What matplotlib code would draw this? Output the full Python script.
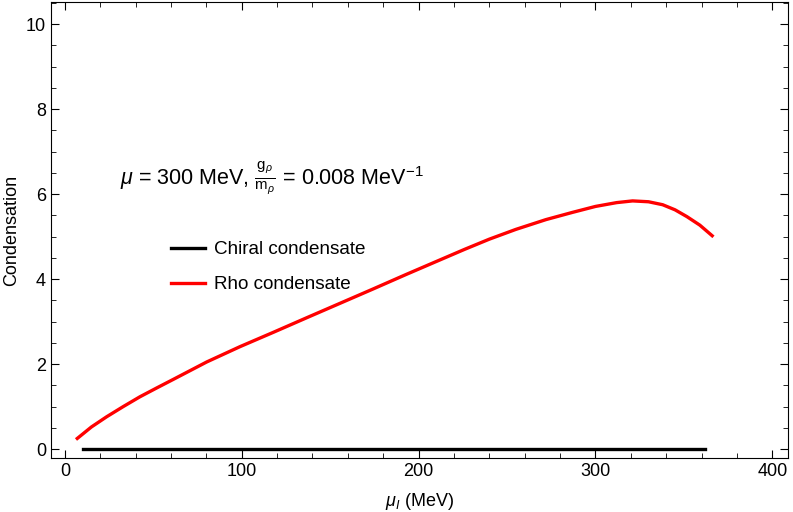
import matplotlib.pyplot as plt
from matplotlib.ticker import MultipleLocator

plt.rcParams['font.family'] = ['Liberation Sans', 'DejaVu Sans']
plt.rcParams['mathtext.fontset'] = 'custom'
plt.rcParams['mathtext.rm'] = 'Liberation Sans'
plt.rcParams['mathtext.it'] = 'Liberation Sans:italic'

# isospin chemical potential (MeV) and condensates
mu_i_rho = [7, 15, 23.6, 33, 42.4, 52, 61.3, 80.2, 99, 118, 136.7, 155, 174.4, 193, 212,
            226, 240, 255, 272, 287, 300, 312, 321, 330, 338, 345, 351.7, 359, 366]
rho = [0.25, 0.52, 0.76, 1.00, 1.23, 1.44, 1.64, 2.05, 2.41, 2.75, 3.09, 3.42, 3.77, 4.11, 4.45,
       4.70, 4.94, 5.17, 5.40, 5.57, 5.71, 5.80, 5.84, 5.82, 5.75, 5.63, 5.47, 5.27, 5.02]
mu_i_chiral = [10, 362]
chiral = [0, 0]

fig = plt.figure(figsize=(7.93, 5.12), dpi=100)
ax = fig.add_axes([0.064, 0.1055, 0.93, 0.8905])

ax.plot(mu_i_chiral, chiral, color='black', lw=2.4, label='Chiral condensate')
ax.plot(mu_i_rho, rho, color='red', lw=2.4, label='Rho condensate')

ax.set_xlim(-8, 409)
ax.set_ylim(-0.21, 10.52)
ax.xaxis.set_major_locator(MultipleLocator(100))
ax.xaxis.set_minor_locator(MultipleLocator(20))
ax.yaxis.set_major_locator(MultipleLocator(2))
ax.yaxis.set_minor_locator(MultipleLocator(0.5))
ax.tick_params(which='both', direction='in', top=True, right=True, labelsize=13)
ax.tick_params(which='major', length=6)
ax.tick_params(which='minor', length=3.5)

ax.set_xlabel(r'$\mu_I$ (MeV)', fontsize=13, labelpad=8)
ax.set_ylabel('Condensation', fontsize=13, labelpad=4)

ax.text(31, 6.38, r'$\mu$ = 300 MeV, $\frac{\mathrm{g}_\rho}{\mathrm{m}_\rho}$ = 0.008 MeV$^{-1}$',
        fontsize=15.5, va='center')

ax.legend(loc='upper left', bbox_to_anchor=(0.14, 0.513), frameon=False, fontsize=13.6,
          handlelength=1.8, handletextpad=0.5, labelspacing=0.95)

fig.savefig('out.png', dpi=100)
